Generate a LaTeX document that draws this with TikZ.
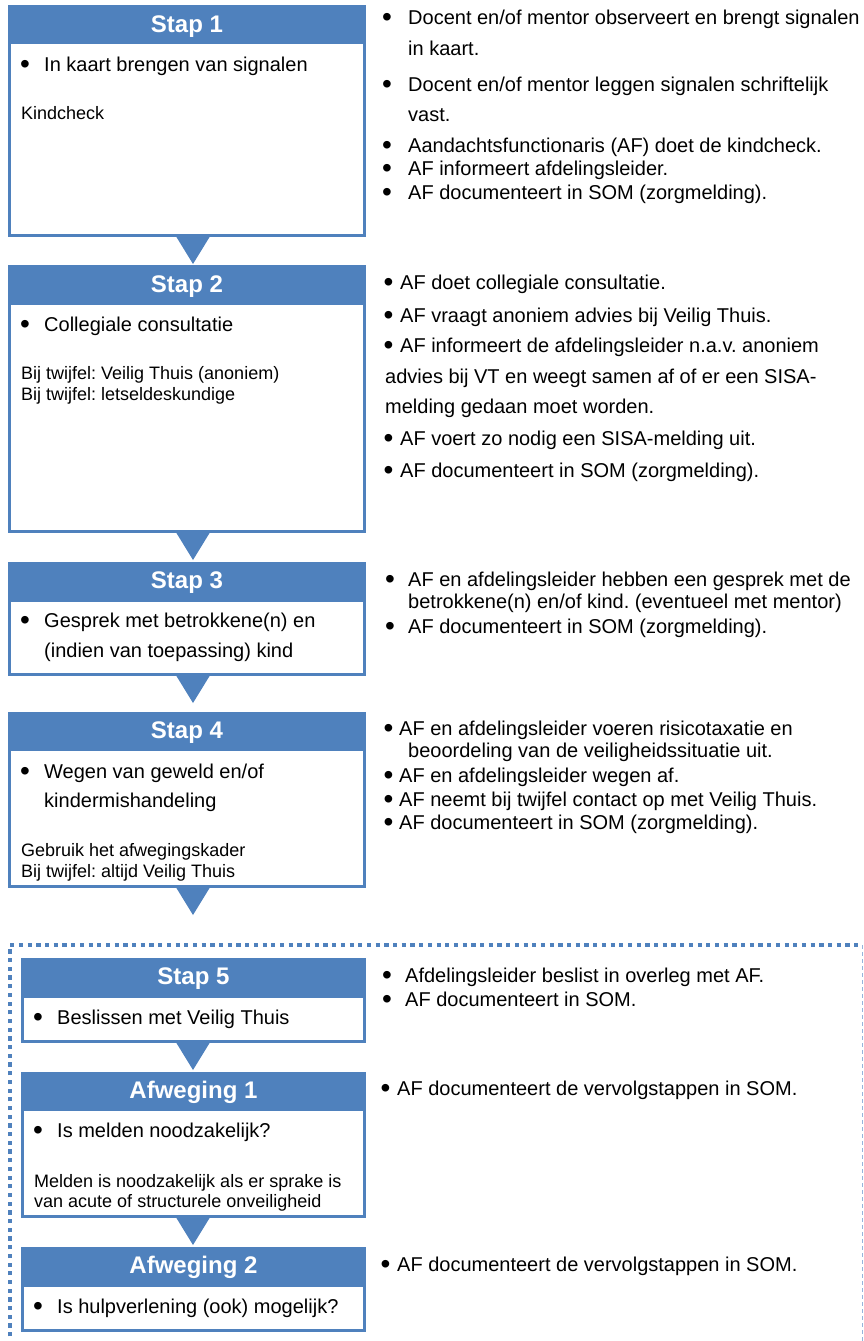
\documentclass[tikz,border=0pt]{standalone}
\usepackage{fontspec}
\setmainfont{Liberation Sans}
\usetikzlibrary{calc}
\definecolor{ablue}{RGB}{79,129,189}
\definecolor{lblue}{RGB}{150,180,220}
\frenchspacing
\newcommand{\bdot}{\smash{•}}
\tikzset{
  box/.style={draw=ablue, line width=3pt, fill=white, inner sep=0pt, outer sep=0pt, anchor=north west},
  hdr/.style={fill=ablue, inner sep=0pt, outer sep=0pt, anchor=north west},
  title/.style={text=white, font=\fontsize{24}{28}\selectfont\bfseries, anchor=base, inner sep=0pt},
  body/.style={font=\fontsize{20}{24}\selectfont, anchor=base west, inner sep=0pt},
  small/.style={font=\fontsize{18}{21}\selectfont, anchor=base west, inner sep=0pt},
  bul/.style={font=\fontsize{28}{30}\selectfont, anchor=base, inner sep=0pt, yshift=-2.5pt},
  tri/.style={fill=ablue},
  frame/.style={draw=ablue, line width=4.2pt, dash pattern=on 4.2pt off 4.5pt},
  frameright/.style={draw=lblue, line width=1pt, dash pattern=on 4pt off 3pt},
}
\begin{document}
\frenchspacing
\begin{tikzpicture}[x=1pt, y=-1pt]
\useasboundingbox (0,0) rectangle (863,1341);
\coordinate (tx) at (193,0);

% dotted frame
\coordinate (fbl) at (10,1345);
\coordinate (ftl) at (10,945);
\coordinate (ftr) at (862,945);
\coordinate (fbr) at (862,1345);
\draw[frame] (fbl) -- (ftl) -- (ftr);
\draw[frameright] (ftr) -- (fbr);

% boxes
\node[box, minimum width=355pt, minimum height=229pt] (s1) at (9.5,6.5) {};
\node[hdr, minimum width=358pt, minimum height=39pt] (h1) at (8,5) {};
\node[box, minimum width=355pt, minimum height=265pt] (s2) at (9.5,266.5) {};
\node[hdr, minimum width=358pt, minimum height=40pt] (h2) at (8,265) {};
\node[box, minimum width=355pt, minimum height=111pt] (s3) at (9.5,563.5) {};
\node[hdr, minimum width=358pt, minimum height=40pt] (h3) at (8,562) {};
\node[box, minimum width=355pt, minimum height=173pt] (s4) at (9.5,713.5) {};
\node[hdr, minimum width=358pt, minimum height=39pt] (h4) at (8,712) {};
\node[box, minimum width=342pt, minimum height=82pt] (s5) at (22.5,959.5) {};
\node[hdr, minimum width=345pt, minimum height=40pt] (h5) at (21,958) {};
\node[box, minimum width=342pt, minimum height=143pt] (a1) at (22.5,1073.5) {};
\node[hdr, minimum width=345pt, minimum height=39pt] (ha1) at (21,1072) {};
\node[box, minimum width=342pt, minimum height=82pt] (a2) at (22.5,1248.5) {};
\node[hdr, minimum width=345pt, minimum height=40pt] (ha2) at (21,1247) {};

% triangles (connectors)
\foreach \b in {s1,s2,s3,s4,s5,a1}{
  \fill[tri] ($(\b.south -| tx)+(-17.5,0)$) -- ($(\b.south -| tx)+(17.5,0)$) -- ($(\b.south -| tx)+(0,28.5)$) -- cycle;
}

% titles
\node[title] (t1) at (187,32) {Stap 1};
\node[title] (t2) at (187,292) {Stap 2};
\node[title] (t3) at (187,588) {Stap 3};
\node[title] (t4) at (187,738) {Stap 4};
\node[title] (t5) at (193.5,984) {Stap 5};
\node[title] (ta1) at (193.5,1098) {Afweging 1};
\node[title] (ta2) at (193.5,1273) {Afweging 2};

% left box texts
\node[bul] (b1) at (25,71) {\bdot};
\node[body] (l1) at (44,71) {In kaart brengen van signalen};
\node[small] (k1) at (21,119) {Kindcheck};

\node[bul] (b2) at (25,331) {\bdot};
\node[body] (l2) at (44,331) {Collegiale consultatie};
\node[small] (k2a) at (21,379) {Bij twijfel: Veilig Thuis (anoniem)};
\node[small] (k2b) at (21,400) {Bij twijfel: letseldeskundige};

\node[bul] (b3) at (25,627) {\bdot};
\node[body] (l3a) at (44,627) {Gesprek met betrokkene(n) en};
\node[body] (l3b) at (44,657) {(indien van toepassing) kind};

\node[bul] (b4) at (25,778) {\bdot};
\node[body] (l4a) at (44,778) {Wegen van geweld en/of};
\node[body] (l4b) at (44,807) {kindermishandeling};
\node[small] (k4a) at (21,856) {Gebruik het afwegingskader};
\node[small] (k4b) at (21,877) {Bij twijfel: altijd Veilig Thuis};

\node[bul] (b5) at (38,1024) {\bdot};
\node[body] (l5) at (57,1024) {Beslissen met Veilig Thuis};

\node[bul] (ba1) at (38,1137) {\bdot};
\node[body] (la1) at (57,1137) {Is melden noodzakelijk?};
\node[small] (ka1a) at (34,1187) {Melden is noodzakelijk als er sprake is};
\node[small] (ka1b) at (34,1207) {van acute of structurele onveiligheid};

\node[bul] (ba2) at (38,1313) {\bdot};
\node[body] (la2) at (57,1313) {Is hulpverlening (ook) mogelijk?};

% right column, step 1
\node[bul] (r1b1) at (387,24) {\bdot};
\node[body] (r1a) at (408,24) {Docent en/of mentor observeert en brengt signalen};
\node[body] (r1b) at (408,55) {in kaart.};
\node[bul] (r1b2) at (387,91) {\bdot};
\node[body] (r1c) at (408,91) {Docent en/of mentor leggen signalen schriftelijk};
\node[body] (r1d) at (408,121) {vast.};
\node[bul] (r1b3) at (387,152) {\bdot};
\node[body] (r1e) at (408,152) {Aandachtsfunctionaris (AF) doet de kindcheck.};
\node[bul] (r1b4) at (387,175) {\bdot};
\node[body] (r1f) at (408,175) {AF informeert afdelingsleider.};
\node[bul] (r1b5) at (387,199) {\bdot};
\node[body] (r1g) at (408,199) {AF documenteert in SOM (zorgmelding).};

% step 2
\node[bul] (r2b1) at (388.5,289) {\bdot};
\node[body] (r2a) at (400,289) {AF doet collegiale consultatie.};
\node[bul] (r2b2) at (388.5,322) {\bdot};
\node[body] (r2b) at (400,322) {AF vraagt anoniem advies bij Veilig Thuis.};
\node[bul] (r2b3) at (388.5,352) {\bdot};
\node[body] (r2c) at (400,352) {AF informeert de afdelingsleider n.a.v. anoniem};
\node[body] (r2d) at (385,383) {advies bij VT en weegt samen af of er een SISA-};
\node[body] (r2e) at (385,413) {melding gedaan moet worden.};
\node[bul] (r2b4) at (388.5,445) {\bdot};
\node[body] (r2f) at (400,445) {AF voert zo nodig een SISA-melding uit.};
\node[bul] (r2b5) at (388.5,477) {\bdot};
\node[body] (r2g) at (400,477) {AF documenteert in SOM (zorgmelding).};

% step 3
\node[bul] (r3b1) at (390,586) {\bdot};
\node[body] (r3a) at (408,586) {AF en afdelingsleider hebben een gesprek met de};
\node[body] (r3b) at (408,608) {betrokkene(n) en/of kind. (eventueel met mentor)};
\node[bul] (r3b2) at (390,633) {\bdot};
\node[body] (r3c) at (408,633) {AF documenteert in SOM (zorgmelding).};

% step 4
\node[bul] (r4b1) at (388.5,735) {\bdot};
\node[body] (r4a) at (399,735) {AF en afdelingsleider voeren risicotaxatie en};
\node[body] (r4b) at (408,757) {beoordeling van de veiligheidssituatie uit.};
\node[bul] (r4b2) at (388.5,782) {\bdot};
\node[body] (r4c) at (399,782) {AF en afdelingsleider wegen af.};
\node[bul] (r4b3) at (388.5,806) {\bdot};
\node[body] (r4d) at (399,806) {AF neemt bij twijfel contact op met Veilig Thuis.};
\node[bul] (r4b4) at (388.5,829) {\bdot};
\node[body] (r4e) at (399,829) {AF documenteert in SOM (zorgmelding).};

% step 5
\node[bul] (r5b1) at (387,982) {\bdot};
\node[body] (r5a) at (405,982) {Afdelingsleider beslist in overleg met AF.};
\node[bul] (r5b2) at (387,1006) {\bdot};
\node[body] (r5b) at (405,1006) {AF documenteert in SOM.};

% afweging 1 and 2
\node[bul] (r6b) at (385.5,1095) {\bdot};
\node[body] (r6) at (397,1095) {AF documenteert de vervolgstappen in SOM.};
\node[bul] (r7b) at (385.5,1271) {\bdot};
\node[body] (r7) at (397,1271) {AF documenteert de vervolgstappen in SOM.};
\end{tikzpicture}
\end{document}
